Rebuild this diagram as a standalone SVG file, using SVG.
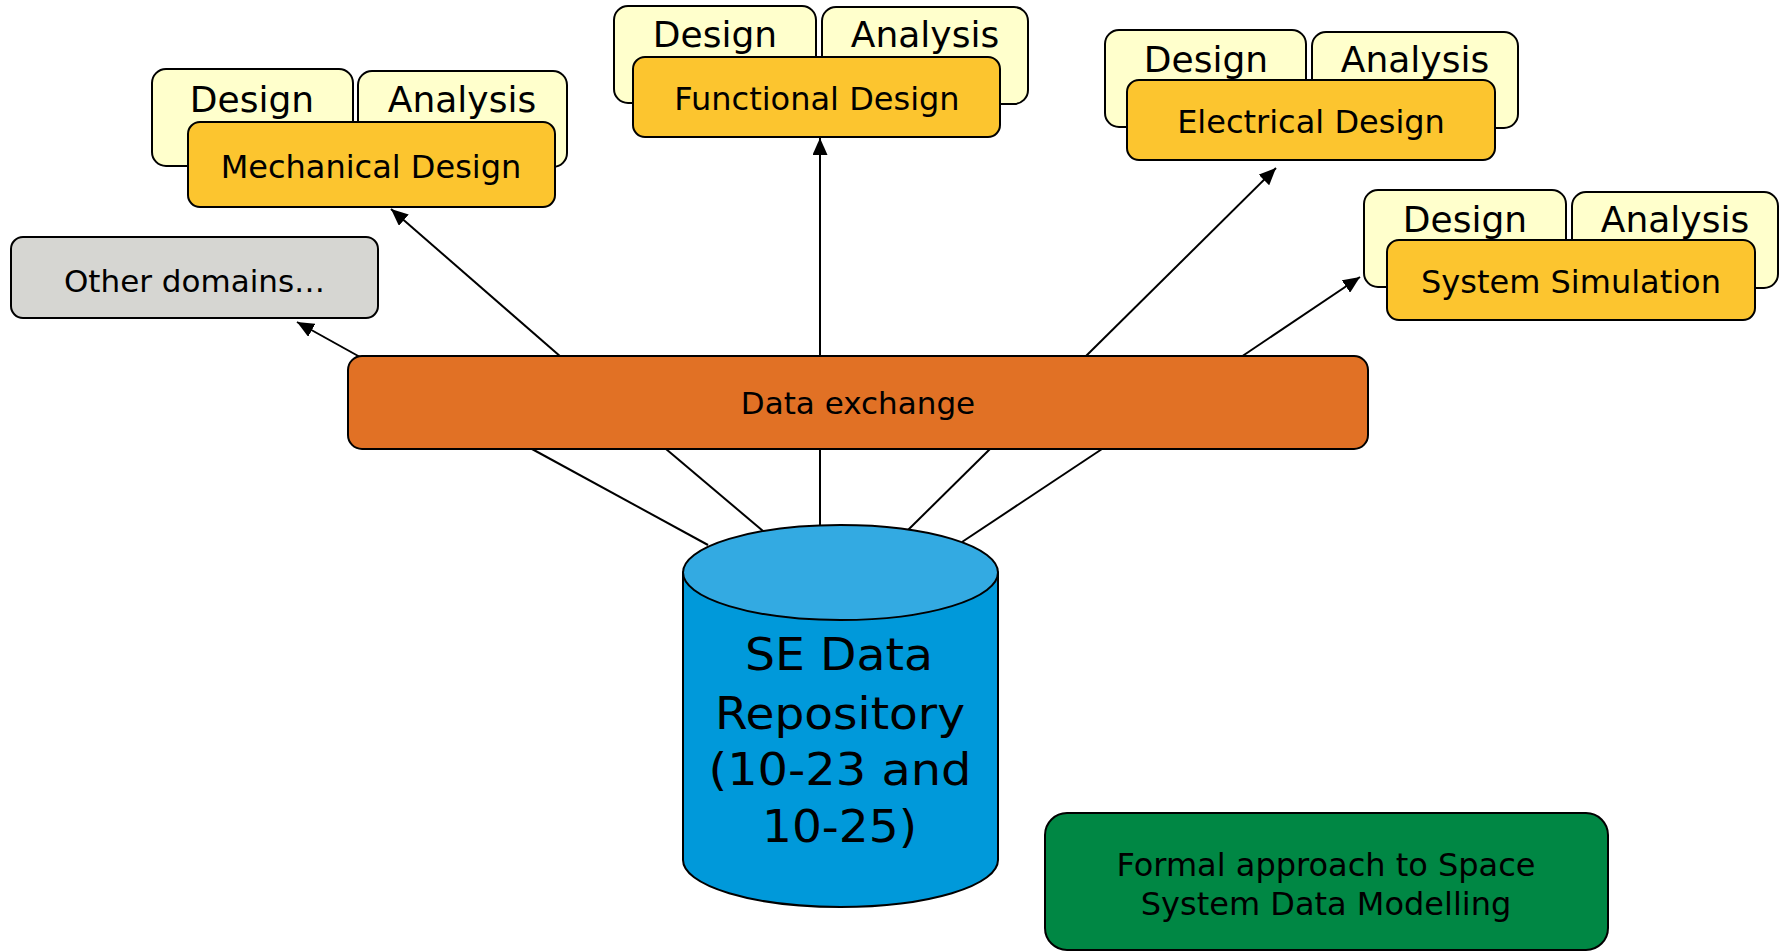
<svg xmlns="http://www.w3.org/2000/svg" width="1785" height="952" viewBox="0 0 1785 952">
<defs>
<style>
text{font-family:"DejaVu Sans","Verdana",sans-serif;fill:#000;text-anchor:middle}
.tab{fill:#FFFFCC;stroke:#000;stroke-width:2}
.dom{fill:#FCC52F;stroke:#000;stroke-width:2}
.tt{font-size:36px}
.dt{font-size:32px}
.conn{stroke:#000;stroke-width:2;fill:none}
.arr{marker-end:url(#ah)}
</style>
<marker id="ah" markerUnits="userSpaceOnUse" markerWidth="19" markerHeight="15" refX="17" refY="7.5" orient="auto">
<path d="M0,0 L17,7.5 L0,15 z" fill="#000"/>
</marker>
</defs>
<rect width="1785" height="952" fill="#fff"/>

<g id="connectors">
<line class="conn arr" x1="360" y1="357" x2="297" y2="322"/>
<line class="conn arr" x1="561" y1="357" x2="391" y2="209"/>
<line class="conn arr" x1="820" y1="357" x2="820" y2="138"/>
<line class="conn arr" x1="1085" y1="357" x2="1276" y2="168"/>
<line class="conn arr" x1="1241" y1="357" x2="1360" y2="277"/>
<line class="conn" x1="532" y1="449" x2="708" y2="545"/>
<line class="conn" x1="666" y1="449" x2="763" y2="531"/>
<line class="conn" x1="820" y1="449" x2="820" y2="525"/>
<line class="conn" x1="990" y1="449" x2="908" y2="530"/>
<line class="conn" x1="1102" y1="449" x2="962" y2="542"/>
</g>

<g id="mechanical">
<rect class="tab" x="152" y="69" width="201" height="97" rx="14"/>
<rect class="tab" x="358" y="71" width="209" height="96" rx="14"/>
<text class="tt" x="252" y="112">Design</text>
<text class="tt" x="462" y="112">Analysis</text>
<rect class="dom" x="188" y="122" width="367" height="85" rx="12"/>
<text class="dt" x="371" y="178">Mechanical Design</text>
</g>

<g id="functional">
<rect class="tab" x="614" y="6" width="202" height="97" rx="14"/>
<rect class="tab" x="822" y="7" width="206" height="97" rx="14"/>
<text class="tt" x="715" y="47">Design</text>
<text class="tt" x="925" y="47">Analysis</text>
<rect class="dom" x="633" y="57" width="367" height="80" rx="12"/>
<text class="dt" x="817" y="110">Functional Design</text>
</g>

<g id="electrical">
<rect class="tab" x="1105" y="30" width="201" height="97" rx="14"/>
<rect class="tab" x="1312" y="32" width="206" height="96" rx="14"/>
<text class="tt" x="1206" y="72">Design</text>
<text class="tt" x="1415" y="72">Analysis</text>
<rect class="dom" x="1127" y="80" width="368" height="80" rx="12"/>
<text class="dt" x="1311" y="133">Electrical Design</text>
</g>

<g id="system-simulation">
<rect class="tab" x="1364" y="190" width="202" height="97" rx="14"/>
<rect class="tab" x="1572" y="192" width="206" height="96" rx="14"/>
<text class="tt" x="1465" y="232">Design</text>
<text class="tt" x="1675" y="232">Analysis</text>
<rect class="dom" x="1387" y="240" width="368" height="80" rx="12"/>
<text class="dt" x="1571" y="293">System Simulation</text>
</g>

<g id="other-domains">
<rect x="11" y="237" width="367" height="81" rx="12" fill="#D6D6D2" stroke="#000" stroke-width="2"/>
<text x="194.5" y="292" style="font-size:31px">Other domains…</text>
</g>

<g id="data-exchange">
<rect x="348" y="356" width="1020" height="93" rx="14" fill="#E17125" stroke="#000" stroke-width="2"/>
<text x="858" y="414" style="font-size:31px">Data exchange</text>
</g>

<g id="repository">
<path d="M683,572.5 L683,860 A157.5,47 0 0 0 998,860 L998,572.5 Z" fill="#0099DA" stroke="#000" stroke-width="2"/>
<ellipse cx="840.5" cy="572.5" rx="157.5" ry="47.5" fill="#33AAE2" stroke="#000" stroke-width="2"/>
<g style="font-size:45px">
<text x="839" y="670" textLength="188" lengthAdjust="spacingAndGlyphs">SE Data</text>
<text x="840" y="729" textLength="250" lengthAdjust="spacingAndGlyphs">Repository</text>
<text x="840" y="785" textLength="263" lengthAdjust="spacingAndGlyphs">(10-23 and</text>
<text x="839.5" y="842" textLength="155" lengthAdjust="spacingAndGlyphs">10-25)</text>
</g>
</g>

<g id="formal-approach">
<rect x="1045" y="813" width="563" height="137" rx="22" fill="#008744" stroke="#000" stroke-width="2"/>
<text x="1326" y="876" style="font-size:32px">Formal approach to Space</text>
<text x="1326" y="915" style="font-size:32px">System Data Modelling</text>
</g>
</svg>
